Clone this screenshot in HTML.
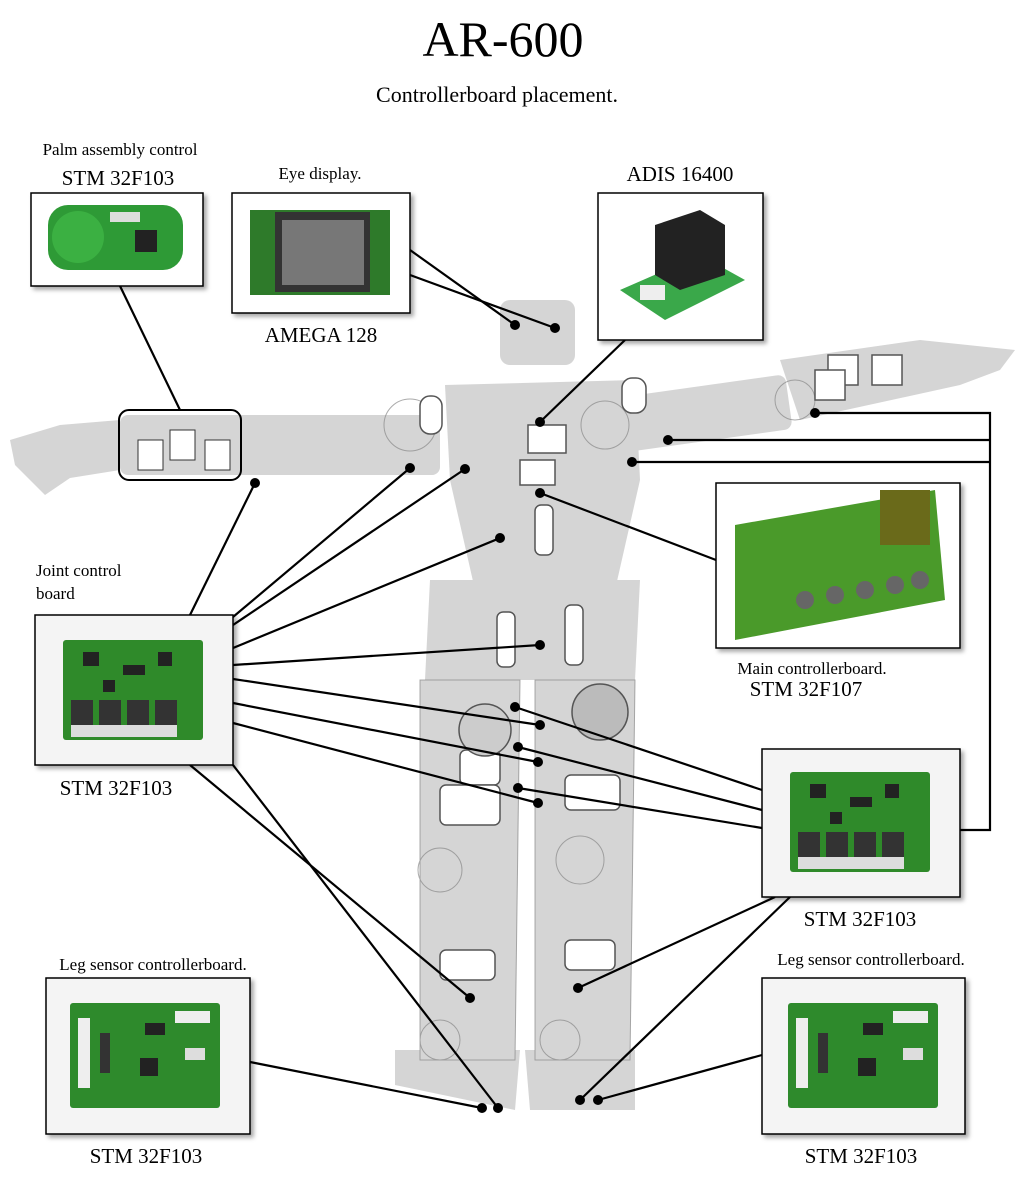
<!DOCTYPE html>
<html><head><meta charset="utf-8"><style>
html,body{margin:0;padding:0;background:#fff}
svg{display:block}
text{font-family:"Liberation Serif",serif;fill:#000}
</style></head><body>
<svg width="1024" height="1181" viewBox="0 0 1024 1181">
<defs>
<filter id="sh" x="-10%" y="-10%" width="130%" height="130%"><feDropShadow dx="3" dy="3" stdDeviation="2" flood-color="#000" flood-opacity="0.35"/></filter>
<g id="board">
<rect x="0" y="0" width="140" height="100" fill="#2f8a2a" rx="3"/>
<rect x="20" y="12" width="16" height="14" fill="#222"/><rect x="60" y="25" width="22" height="10" fill="#222"/>
<rect x="95" y="12" width="14" height="14" fill="#222"/><rect x="40" y="40" width="12" height="12" fill="#222"/>
<rect x="8" y="60" width="22" height="25" fill="#333"/><rect x="36" y="60" width="22" height="25" fill="#333"/>
<rect x="64" y="60" width="22" height="25" fill="#333"/><rect x="92" y="60" width="22" height="25" fill="#333"/>
<rect x="8" y="85" width="106" height="12" fill="#ddd"/>
</g>
<g id="lboard">
<rect x="0" y="0" width="150" height="105" fill="#2e8a2c" rx="3"/>
<rect x="8" y="15" width="12" height="70" fill="#eee"/><rect x="105" y="8" width="35" height="12" fill="#eee"/>
<rect x="75" y="20" width="20" height="12" fill="#222"/><rect x="70" y="55" width="18" height="18" fill="#222"/>
<rect x="115" y="45" width="20" height="12" fill="#ddd"/><rect x="30" y="30" width="10" height="40" fill="#333"/>
</g>
</defs>

<text x="503" y="56" text-anchor="middle" font-size="50">AR-600</text>
<text x="497" y="102" text-anchor="middle" font-size="22">Controllerboard placement.</text>

<g fill="#aaa" opacity="0.5">
<path d="M10 440 L60 425 L120 420 L120 470 L70 478 L45 495 L15 465 Z"/>
<rect x="120" y="415" width="320" height="60" rx="8"/>
<rect x="560" y="390" width="230" height="55" rx="8" transform="rotate(-8 675 418)"/>
<path d="M780 360 L920 340 L1015 350 L1000 370 L960 385 L800 420 Z"/>
<rect x="500" y="300" width="75" height="65" rx="10"/>
<path d="M445 385 L635 380 L640 480 L615 590 L475 590 L450 480 Z"/>
<path d="M430 580 L640 580 L635 680 L425 680 Z"/>
<path d="M420 680 L520 680 L515 1060 L420 1060 Z"/>
<path d="M535 680 L635 680 L630 1060 L535 1060 Z"/>
<path d="M395 1050 L520 1050 L515 1110 L395 1085 Z"/>
<path d="M525 1050 L635 1050 L635 1110 L530 1110 Z"/>
</g>
<g fill="none" stroke="#888" stroke-width="1" opacity="0.7">
<path d="M420 680 L520 680 L515 1060 L420 1060 Z"/>
<path d="M535 680 L635 680 L630 1060 L535 1060 Z"/>
<circle cx="440" cy="870" r="22"/><circle cx="580" cy="860" r="24"/>
<circle cx="440" cy="1040" r="20"/><circle cx="560" cy="1040" r="20"/>
<circle cx="410" cy="425" r="26"/><circle cx="605" cy="425" r="24"/><circle cx="795" cy="400" r="20"/>
</g>
<g fill="#fff" stroke="#555" stroke-width="1.5">
<rect x="535" y="505" width="18" height="50" rx="6"/><rect x="497" y="612" width="18" height="55" rx="6"/>
<rect x="565" y="605" width="18" height="60" rx="6"/><rect x="520" y="460" width="35" height="25"/>
<rect x="528" y="425" width="38" height="28"/><rect x="622" y="378" width="24" height="35" rx="10"/>
<rect x="420" y="396" width="22" height="38" rx="10"/><rect x="440" y="950" width="55" height="30" rx="6"/>
<rect x="565" y="940" width="50" height="30" rx="6"/><rect x="460" y="750" width="40" height="35" rx="6"/>
<rect x="565" y="775" width="55" height="35" rx="6"/><rect x="440" y="785" width="60" height="40" rx="6"/>
<circle cx="485" cy="730" r="26" fill="#ccc"/><circle cx="600" cy="712" r="28" fill="#bbb"/>
<rect x="828" y="355" width="30" height="30"/><rect x="872" y="355" width="30" height="30"/><rect x="815" y="370" width="30" height="30"/>
</g>
<rect x="119" y="410" width="122" height="70" rx="10" fill="none" stroke="#000" stroke-width="2"/>
<g fill="#fff" stroke="#333">
<rect x="138" y="440" width="25" height="30"/><rect x="170" y="430" width="25" height="30"/><rect x="205" y="440" width="25" height="30"/>
</g>

<g stroke="#000" stroke-width="2.2" fill="none">
<line x1="120" y1="286" x2="180" y2="410"/>
<line x1="410" y1="250" x2="515" y2="325"/><line x1="410" y1="275" x2="555" y2="328"/>
<line x1="625" y1="340" x2="540" y2="422"/>
<line x1="190" y1="615" x2="255" y2="483"/>
<line x1="233" y1="617" x2="410" y2="468"/><line x1="233" y1="625" x2="465" y2="469"/>
<line x1="233" y1="648" x2="500" y2="538"/><line x1="233" y1="665" x2="540" y2="645"/>
<line x1="233" y1="679" x2="540" y2="725"/><line x1="233" y1="703" x2="538" y2="762"/>
<line x1="233" y1="723" x2="538" y2="803"/>
<line x1="762" y1="790" x2="515" y2="707"/><line x1="762" y1="810" x2="518" y2="747"/><line x1="762" y1="828" x2="518" y2="788"/>
<line x1="540" y1="493" x2="716" y2="560"/>
<line x1="190" y1="765" x2="470" y2="998"/><line x1="233" y1="765" x2="498" y2="1108"/>
<line x1="250" y1="1062" x2="482" y2="1108"/>
<line x1="775" y1="897" x2="578" y2="988"/><line x1="790" y1="897" x2="580" y2="1100"/>
<line x1="762" y1="1055" x2="598" y2="1100"/>
<polyline points="815,413 990,413 990,830 960,830"/>
<polyline points="668,440 990,440"/><polyline points="632,462 990,462"/>
</g>
<g fill="#000">
<circle cx="515" cy="325" r="5"/><circle cx="555" cy="328" r="5"/><circle cx="540" cy="422" r="5"/>
<circle cx="255" cy="483" r="5"/><circle cx="410" cy="468" r="5"/><circle cx="465" cy="469" r="5"/>
<circle cx="500" cy="538" r="5"/><circle cx="540" cy="645" r="5"/><circle cx="540" cy="725" r="5"/>
<circle cx="538" cy="762" r="5"/><circle cx="538" cy="803" r="5"/><circle cx="515" cy="707" r="5"/>
<circle cx="518" cy="747" r="5"/><circle cx="518" cy="788" r="5"/><circle cx="540" cy="493" r="5"/>
<circle cx="470" cy="998" r="5"/><circle cx="498" cy="1108" r="5"/><circle cx="482" cy="1108" r="5"/>
<circle cx="578" cy="988" r="5"/><circle cx="580" cy="1100" r="5"/><circle cx="598" cy="1100" r="5"/>
<circle cx="815" cy="413" r="5"/><circle cx="668" cy="440" r="5"/><circle cx="632" cy="462" r="5"/>
</g>

<g>
<rect x="31" y="193" width="172" height="93" fill="#fff" stroke="#000" stroke-width="1.5" filter="url(#sh)"/>
<rect x="48" y="205" width="135" height="65" rx="20" fill="#2e9a36"/>
<circle cx="78" cy="237" r="26" fill="#3bb042"/><rect x="135" y="230" width="22" height="22" fill="#222"/><rect x="110" y="212" width="30" height="10" fill="#ddd"/>
</g>
<g>
<rect x="232" y="193" width="178" height="120" fill="#fff" stroke="#000" stroke-width="1.5" filter="url(#sh)"/>
<rect x="250" y="210" width="140" height="85" fill="#2e7a2a"/><rect x="275" y="212" width="95" height="80" fill="#333"/><rect x="282" y="220" width="82" height="65" fill="#777"/>
</g>
<g>
<rect x="598" y="193" width="165" height="147" fill="#fff" stroke="#000" stroke-width="1.5" filter="url(#sh)"/>
<path d="M620 290 L700 255 L745 280 L665 320 Z" fill="#3aa84a"/>
<path d="M655 225 L700 210 L725 225 L725 275 L680 290 L655 275 Z" fill="#222"/>
<rect x="640" y="285" width="25" height="15" fill="#eee"/>
</g>
<g>
<rect x="716" y="483" width="244" height="165" fill="#fff" stroke="#000" stroke-width="1.5" filter="url(#sh)"/>
<path d="M735 525 L935 490 L945 600 L735 640 Z" fill="#4a9a2a"/>
<rect x="880" y="490" width="50" height="55" fill="#6a6a1a"/>
<g fill="#666"><circle cx="805" cy="600" r="9"/><circle cx="835" cy="595" r="9"/><circle cx="865" cy="590" r="9"/><circle cx="895" cy="585" r="9"/><circle cx="920" cy="580" r="9"/></g>
</g>
<g>
<rect x="35" y="615" width="198" height="150" fill="#f4f4f4" stroke="#000" stroke-width="1.5" filter="url(#sh)"/>
<use href="#board" x="63" y="640"/>
</g>
<g>
<rect x="762" y="749" width="198" height="148" fill="#f4f4f4" stroke="#000" stroke-width="1.5" filter="url(#sh)"/>
<use href="#board" x="790" y="772"/>
</g>
<g>
<rect x="46" y="978" width="204" height="156" fill="#f4f4f4" stroke="#000" stroke-width="1.5" filter="url(#sh)"/>
<use href="#lboard" x="70" y="1003"/>
</g>
<g>
<rect x="762" y="978" width="203" height="156" fill="#f4f4f4" stroke="#000" stroke-width="1.5" filter="url(#sh)"/>
<use href="#lboard" x="788" y="1003"/>
</g>

<g>
<text x="120" y="155" text-anchor="middle" font-size="17">Palm assembly control</text>
<text x="118" y="185" text-anchor="middle" font-size="21">STM 32F103</text>
<text x="320" y="179" text-anchor="middle" font-size="17">Eye display.</text>
<text x="321" y="342" text-anchor="middle" font-size="21">AMEGA 128</text>
<text x="680" y="181" text-anchor="middle" font-size="21">ADIS 16400</text>
<text x="36" y="576" font-size="17">Joint control</text>
<text x="36" y="599" font-size="17">board</text>
<text x="116" y="795" text-anchor="middle" font-size="21">STM 32F103</text>
<text x="812" y="674" text-anchor="middle" font-size="17">Main controllerboard.</text>
<text x="806" y="696" text-anchor="middle" font-size="21">STM 32F107</text>
<text x="860" y="926" text-anchor="middle" font-size="21">STM 32F103</text>
<text x="153" y="970" text-anchor="middle" font-size="17">Leg sensor controllerboard.</text>
<text x="146" y="1163" text-anchor="middle" font-size="21">STM 32F103</text>
<text x="871" y="965" text-anchor="middle" font-size="17">Leg sensor controllerboard.</text>
<text x="861" y="1163" text-anchor="middle" font-size="21">STM 32F103</text>
</g>
</svg>
</body></html>
